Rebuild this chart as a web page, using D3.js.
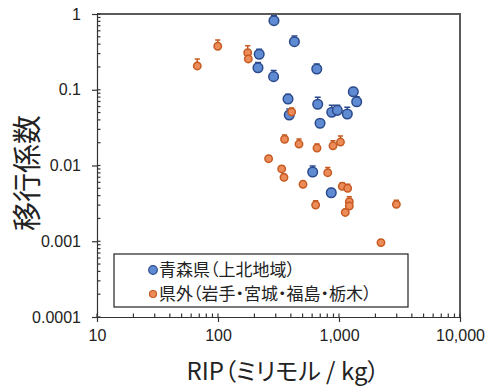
<!DOCTYPE html>
<html><head><meta charset="utf-8">
<script src="https://cdn.jsdelivr.net/npm/d3@7"></script>
<style>
html,body{margin:0;padding:0;background:#fff;}
svg{display:block;}
.jp{font-family:"Noto Sans CJK JP","Noto Sans",sans-serif;font-feature-settings:"palt";}
.num{font-family:"Liberation Sans",Arial,sans-serif;}
</style></head>
<body>
<script>
// ---- data ----
const xTickValues = [10, 100, 1000, 10000];
const xTickLabels = ["10", "100", "1,000", "10,000"];
const yTickValues = [0.0001, 0.001, 0.01, 0.1, 1];
const yTickLabels = ["0.0001", "0.001", "0.01", "0.1", "1"];

const seriesNames = ["青森県（上北地域）", "県外（岩手・宮城・福島・栃木）"];

const aomoriRIP = [290, 428, 219, 214, 288, 655, 1313, 1400, 379, 667, 388, 871, 969, 1171, 697, 606, 863];
const aomoriTF  = [0.816, 0.431, 0.294, 0.195, 0.149, 0.188, 0.094, 0.0695, 0.0755, 0.0643, 0.0464, 0.0504, 0.0535, 0.0478, 0.0361, 0.0082, 0.00437];
const aomoriTFUpper = [0.95, 0.512, 0.342, 0.229, 0.179, 0.219, 0.107, 0.0809, 0.0871, 0.0795, 0.0557, 0.0623, 0.0623, 0.0586, 0.0395, 0.00984, 0.00498];

const otherRIP = [99.5, 176, 178, 67.4, 406, 355, 467, 658, 892, 1028, 262, 336, 351, 807, 504, 1064, 1180, 641, 1217, 1217, 1127, 2980, 2223];
const otherTF  = [0.375, 0.308, 0.255, 0.206, 0.0509, 0.0222, 0.0192, 0.0170, 0.0182, 0.0204, 0.0123, 0.0090, 0.00698, 0.00803, 0.00565, 0.00531, 0.0050, 0.00301, 0.00333, 0.00292, 0.0024, 0.00307, 0.00096];
const otherTFUpper = [0.454, 0.381, 0.288, 0.255, 0.0575, 0.0253, 0.0223, 0.0192, 0.0212, 0.0245, 0.01347, 0.00986, 0.00764, 0.00944, 0.00614, 0.00594, 0.00565, 0.00343, 0.00388, 0.0032, 0.00263, 0.00347, 0.00105];

// ---- layout ----
const W = 489, H = 392;
const L = 97, R = 460, T = 14, B = 317;

const svg = d3.select("body").append("svg").attr("width", W).attr("height", H);

const x = d3.scaleLog().domain([10, 10000]).range([L, R]);
const y = d3.scaleLog().domain([0.0001, 1]).range([B, T]);

const axisColor = "#333";

// frame top/right
svg.append("path").attr("d", `M${L},${T}H${R}V${B}`).attr("fill", "none")
  .attr("stroke", "#5a5a5a").attr("stroke-width", 2);

// minor ticks (inside)
const xMinor = x.ticks().filter(v => !xTickValues.includes(v));
const yMinor = y.ticks().filter(v => !yTickValues.some(t => Math.abs(t - v) / t < 1e-9));

const gx = svg.append("g").attr("transform", `translate(0,${B})`)
  .call(d3.axisBottom(x).tickValues(xTickValues).tickFormat((d, i) => xTickLabels[i]).tickSizeInner(5).tickSizeOuter(0).tickPadding(9));
const gy = svg.append("g").attr("transform", `translate(${L},0)`)
  .call(d3.axisLeft(y).tickValues(yTickValues).tickFormat((d, i) => yTickLabels[i]).tickSizeInner(5).tickSizeOuter(0).tickPadding(11));
[gx, gy].forEach(g => {
  g.select(".domain").attr("stroke", axisColor).attr("stroke-width", 1.2);
  g.selectAll(".tick line").attr("stroke", axisColor).attr("stroke-width", 1.2);
  g.selectAll(".tick text").attr("class", "num").attr("font-size", 16).attr("fill", "#222");
});
gx.selectAll(".tick text").attr("dy", "0.6em");

svg.append("g").selectAll("line").data(xMinor).join("line")
  .attr("x1", d => x(d)).attr("x2", d => x(d)).attr("y1", B).attr("y2", B - 3.5)
  .attr("stroke", axisColor).attr("stroke-width", 1.2);
svg.append("g").selectAll("line").data(yMinor).join("line")
  .attr("x1", L).attr("x2", L + 3.5).attr("y1", d => y(d)).attr("y2", d => y(d))
  .attr("stroke", axisColor).attr("stroke-width", 1.2);
// also the major ticks extend inward slightly
svg.append("g").selectAll("line").data(yTickValues).join("line")
  .attr("x1", L).attr("x2", L + 3.5).attr("y1", d => y(d)).attr("y2", d => y(d))
  .attr("stroke", axisColor).attr("stroke-width", 1.2);
svg.append("g").selectAll("line").data(xTickValues).join("line")
  .attr("x1", d => x(d)).attr("x2", d => x(d)).attr("y1", B).attr("y2", B - 3.5)
  .attr("stroke", axisColor).attr("stroke-width", 1.2);

// series
const series = [
  { xs: aomoriRIP, ys: aomoriTF, up: aomoriTFUpper, fill: "#5f8bd3", stroke: "#2b4a8c", r: 4.8, cap: 3 },
  { xs: otherRIP, ys: otherTF, up: otherTFUpper, fill: "#ec8c58", stroke: "#c65a22", r: 3.7, cap: 2.6 }
];
series.forEach(s => {
  const data = s.xs.map((v, i) => ({ x: v, y: s.ys[i], u: s.up[i] }));
  const g = svg.append("g");
  g.selectAll("path.err").data(data).join("path").attr("class", "err")
    .attr("d", d => `M${x(d.x)},${y(d.y)}V${y(d.u)}M${x(d.x) - s.cap},${y(d.u)}H${x(d.x) + s.cap}`)
    .attr("stroke", s.stroke).attr("stroke-width", 1.5).attr("fill", "none");
  g.selectAll("circle").data(data).join("circle")
    .attr("cx", d => x(d.x)).attr("cy", d => y(d.y)).attr("r", s.r)
    .attr("fill", s.fill).attr("stroke", s.stroke).attr("stroke-width", 1.5);
});

// legend
const lg = svg.append("g");
lg.append("rect").attr("x", 114).attr("y", 254).attr("width", 294).attr("height", 53)
  .attr("fill", "#fff").attr("stroke", "#222").attr("stroke-width", 1.2);
series.forEach((s, i) => {
  const cy = 270 + i * 24;
  lg.append("circle").attr("cx", 153).attr("cy", cy).attr("r", i === 0 ? 4.3 : 3.5)
    .attr("fill", s.fill).attr("stroke", s.stroke).attr("stroke-width", 1.2);
  lg.append("text").attr("class", "jp").attr("x", 159).attr("y", cy).attr("dy", "0.36em")
    .attr("font-size", 17).attr("fill", "#222").text(seriesNames[i]);
});

// axis titles
svg.append("text").attr("class", "jp").attr("x", 283).attr("y", 371).attr("dy", "0.36em")
  .attr("text-anchor", "middle").attr("font-size", 24).attr("fill", "#222")
  .text("RIP（ミリモル / kg）");
svg.append("text").attr("class", "jp")
  .attr("transform", "translate(28,173) rotate(-90)").attr("dy", "0.36em")
  .attr("text-anchor", "middle").attr("font-size", 29).attr("fill", "#222")
  .text("移行係数");
</script>
</body></html>
